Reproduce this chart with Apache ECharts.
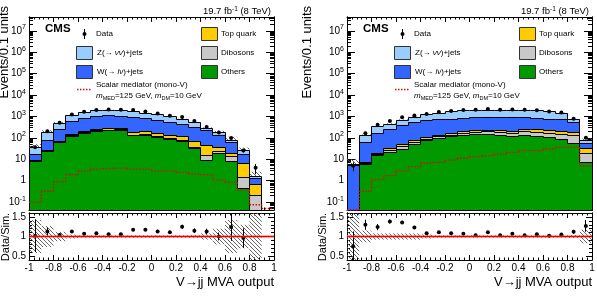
<!DOCTYPE html>
<html lang="en">
<head>
    <meta charset="UTF-8">
    <title>V-&gt;jj MVA output</title>
    <script src="https://cdn.jsdelivr.net/npm/echarts@6.0.0/dist/echarts.min.js"></script>
    <style>
        html, body { margin: 0; padding: 0; background: #fff; }
        #main { width: 597px; height: 296px; }
    </style>
</head>
<body>
<div id="main"></div>

<script type="text/javascript">
    // bins of the MVA output (lower edges), width 0.1
    const binLow = [-1, -0.9, -0.8, -0.7, -0.6, -0.5, -0.4, -0.3, -0.2, -0.1, 0, 0.1, 0.2, 0.3, 0.4, 0.5, 0.6, 0.7, 0.8, 0.9]
    const binWidth = 0.1
    const logTickExp = [-1, 0, 1, 2, 3, 4, 5, 6, 7]
    const ratioTicks = [0.5, 1, 1.5]
    const ratioMinorTicks = [0.6, 0.7, 0.8, 0.9, 1.1, 1.2, 1.3, 1.4]

    // left panel, events per bin (stack order bottom -> top)
    const othersL  = [8.3, 22.6, 59.6, 122, 169, 202, 217, 233, 127, 136, 106, 88.5, 66.4, 32.4, 9.2, 18.9, 8.0, 0.45, 0.02, 0]
    const dibosonL = [0.3, 0.9, 2.2, 5, 12, 15, 16, 17, 9, 10, 8, 10, 7.6, 3.7, 6.1, 3.7, 5.2, 0.98, 0.19, 0]
    const topL     = [0.3, 1.7, 7, 14, 21, 24, 36, 39, 52, 49, 43, 37.5, 40, 32.8, 27.9, 13.5, 5.7, 4.6, 0.49, 0]
    const wjetsL   = [8.7, 54, 190, 450, 645, 773, 820, 761, 756, 594, 502, 396, 299, 241, 174, 100, 43, 11.6, 0.63, 0]
    const zjetsL   = [18.5, 101, 236, 498, 713, 852, 915, 882, 794, 663, 554, 446, 348, 222, 72, 45, 17.7, 9.5, 0.21, 0]
    const dataL    = [37, 205, 515, 1231, 1669, 2015, 2124, 2048, 2033, 1699, 1371, 1086, 951, 612, 327, 181, 99, 26, 4, null]
    const signalL  = [0.097, 0.32, 0.9, 1.9, 2.9, 3.5, 3.7, 3.9, 3.5, 3.5, 2.9, 2.9, 2.45, 2.05, 1.9, 1.07, 0.84, 0.37, 0.075, 0.05]
    const ratioL    = [1.02, 1.13, 1.04, 1.13, 1.07, 1.08, 1.06, 1.06, 1.17, 1.17, 1.13, 1.11, 1.25, 1.15, 1.13, 1.0, 1.24, 0.96, null, null]
    const ratioErrL = [0.42, 0.1, 0.04, 0.03, 0.03, 0.03, 0.03, 0.03, 0.03, 0.03, 0.04, 0.04, 0.05, 0.06, 0.07, 0.1, 0.35, 0.25, 0, 0]
    const mcErrL    = [0.42, 0.27, 0.12, 0.05, 0.03, 0.03, 0.03, 0.03, 0.03, 0.03, 0.03, 0.03, 0.03, 0.04, 0.08, 0.2, 0.42, 0.3, 0.7, 0]

    // right panel
    const othersR  = [0.01, 6.0, 14.7, 21.1, 30.2, 51.6, 74, 98.5, 118, 136, 151, 151, 127, 118, 136, 118, 106, 88.5, 55.5, 7.2]
    const dibosonR = [0.005, 0.6, 1.3, 4.1, 8.6, 10.2, 14.5, 15.5, 18, 21, 30, 44, 54, 45, 59, 63, 57, 62.5, 71.5, 12.4]
    const topR     = [0.005, 0.6, 3, 7.2, 12.8, 12.2, 17.5, 22, 33, 38, 52, 38, 52, 39, 64, 60, 70, 51, 54, 12.8]
    const wjetsR   = [5.0, 54.6, 150, 227, 347, 458, 530, 572, 592, 652, 678, 678, 678, 709, 652, 606, 528, 506, 351, 23.1]
    const zjetsR   = [1.0, 65, 164, 186, 285, 379, 577, 744, 914, 1019, 1093, 1093, 1093, 1093, 1093, 1019, 914, 744, 176, 24]
    const dataR    = [5, 165, 413, 614, 930, 1121, 1310, 1612, 1809, 1997, 2064, 2224, 2064, 2144, 2064, 1978, 1709, 1525, 793, 101]
    const signalR  = [0.02, 0.32, 1.11, 1.71, 2.9, 4.5, 6.7, 7.2, 9.2, 11.5, 13.2, 14.7, 17.6, 21.1, 25.2, 25.2, 30.2, 36.1, 36.1, 5.0]
    const ratioR    = [0.75, 1.30, 1.24, 1.38, 1.36, 1.23, 1.08, 1.11, 1.08, 1.07, 1.03, 1.11, 1.03, 1.07, 1.03, 1.06, 1.02, 1.05, 1.12, 1.27]
    const ratioErrR = [0.38, 0.13, 0.08, 0.05, 0.04, 0.04, 0.03, 0.03, 0.03, 0.03, 0.03, 0.03, 0.03, 0.03, 0.03, 0.03, 0.03, 0.03, 0.05, 0.15]
    const mcErrR    = [0.7, 0.15, 0.08, 0.08, 0.08, 0.08, 0.05, 0.03, 0.03, 0.03, 0.03, 0.03, 0.03, 0.03, 0.03, 0.03, 0.03, 0.03, 0.04, 0.17]
</script>

<script type="text/javascript">
    const FONT = '"Liberation Sans", Arial, Helvetica, sans-serif'
    const LOG_MIN = -1.37, LOG_MAX = 7.65
    const R_MIN = 0.4, R_MAX = 1.6
    const compColors = ['#009900', '#c8c8c8', '#ffcc00', '#3366ff', '#99ccff']
    const sigColor = '#cc1111'

    const panels = [
        { left: 29, comps: [othersL, dibosonL, topL, wjetsL, zjetsL], data: dataL, signal: signalL,
          ratio: ratioL, ratioErr: ratioErrL, mcErr: mcErrL, evTitleX: 4, ratioTitleX: 6 },
        { left: 347, comps: [othersR, dibosonR, topR, wjetsR, zjetsR], data: dataR, signal: signalR,
          ratio: ratioR, ratioErr: ratioErrR, mcErr: mcErrR, evTitleX: 307, ratioTitleX: 323 }
    ]

    // minor log ticks 2..9 x 10^n
    const logMinor = []
    for (let n = -2; n <= 7; n++) {
        for (let k = 2; k <= 9; k++) {
            const v = Math.log10(k) + n
            if (v > LOG_MIN && v < LOG_MAX) logMinor.push(v)
        }
    }

    function toLog(v) {
        if (!(v > 0)) return LOG_MIN
        return Math.min(LOG_MAX, Math.max(LOG_MIN, Math.log10(v)))
    }
    function cumLevels(comps, i) {
        const out = []
        let s = 0
        comps.forEach(c => { s += c[i]; out.push(s) })
        return out
    }
    const crisp = v => Math.round(v - 0.5) + 0.5

    function hatchPattern(color) {
        const c = document.createElement('canvas')
        c.width = 4
        c.height = 4
        const ctx = c.getContext('2d')
        ctx.strokeStyle = color
        ctx.lineWidth = 0.9
        ctx.beginPath()
        ctx.moveTo(0, 0); ctx.lineTo(4, 4)
        ctx.moveTo(-1, 3); ctx.lineTo(1, 5)
        ctx.moveTo(3, -1); ctx.lineTo(5, 1)
        ctx.stroke()
        return { image: c, repeat: 'repeat' }
    }
    const hatch = hatchPattern('#555')

    const grids = [], xAxes = [], yAxes = [], series = [], graphics = []

    function addX(gi, pos, showLabel, tickLen) {
        xAxes.push({
            type: 'value', gridIndex: gi, position: pos, min: -1, max: 1, interval: 0.2,
            axisLine: { show: true, onZero: false, lineStyle: { color: '#000', width: 1 } },
            axisTick: { show: true, inside: true, length: tickLen, lineStyle: { color: '#000' } },
            minorTick: { show: true, splitNumber: 5, length: tickLen / 2, lineStyle: { color: '#000' } },
            axisLabel: { show: showLabel, margin: 3, color: '#000', fontSize: 10, fontFamily: FONT },
            splitLine: { show: false }
        })
        return xAxes.length - 1
    }

    function addY(gi, pos, min, max, ticks, tickLen, label) {
        yAxes.push({
            type: 'value', gridIndex: gi, position: pos, min: min, max: max,
            axisLine: { show: true, onZero: false, lineStyle: { color: '#000', width: 1 } },
            axisTick: { show: true, inside: true, length: tickLen, customValues: ticks, lineStyle: { color: '#000' } },
            axisLabel: label ? Object.assign({ show: true, customValues: ticks, margin: 3, color: '#000',
                fontSize: 10, fontFamily: FONT }, label) : { show: false },
            splitLine: { show: false }
        })
        return yAxes.length - 1
    }

    const logLabel = {
        formatter: v => v === 0 ? '{b|1}' : v === 1 ? '{b|10}' : '{b|10}{s|' + v + '}',
        rich: {
            b: { fontSize: 10, fontFamily: FONT, color: '#000', lineHeight: 14 },
            s: { fontSize: 7, fontFamily: FONT, color: '#000', verticalAlign: 'top', lineHeight: 8 }
        }
    }

    panels.forEach(p => {
        const gMain = grids.length
        grids.push({ left: p.left, top: 17, width: 245, height: 193, containLabel: false, outerBoundsMode: 'none' })
        const gRat = grids.length
        grids.push({ left: p.left, top: 213, width: 245, height: 47, containLabel: false, outerBoundsMode: 'none' })

        const xm = addX(gMain, 'bottom', false, 5)
        addX(gMain, 'top', false, 5)
        const xr = addX(gRat, 'bottom', true, 5)
        addX(gRat, 'top', false, 5)

        const ym = addY(gMain, 'left', LOG_MIN, LOG_MAX, logTickExp, 8, logLabel)
        addY(gMain, 'left', LOG_MIN, LOG_MAX, logMinor, 4, null)
        addY(gMain, 'right', LOG_MIN, LOG_MAX, logTickExp, 8, null)
        addY(gMain, 'right', LOG_MIN, LOG_MAX, logMinor, 4, null)

        const yr = addY(gRat, 'left', R_MIN, R_MAX, ratioTicks, 6, { formatter: v => String(v) })
        addY(gRat, 'left', R_MIN, R_MAX, ratioMinorTicks, 3, null)
        addY(gRat, 'right', R_MIN, R_MAX, ratioTicks, 6, null)
        addY(gRat, 'right', R_MIN, R_MAX, ratioMinorTicks, 3, null)

        const binData = binLow.map(b => [b])
        const mainSeries = { type: 'custom', xAxisIndex: xm, yAxisIndex: ym, data: binData, silent: true, animation: false }
        const ratSeries = { type: 'custom', xAxisIndex: xr, yAxisIndex: yr, data: binData, silent: true, animation: false }

        // MC uncertainty band in main panel (drawn first, stack covers the inner part)
        series.push(Object.assign({}, mainSeries, {
            renderItem: (params, api) => {
                const i = params.dataIndex
                const tot = cumLevels(p.comps, i)[4]
                const e = p.mcErr[i]
                if (!(tot > 0) || !e) return
                const a = api.coord([binLow[i], toLog(tot * (1 + e))])
                const b = api.coord([binLow[i] + binWidth, toLog(tot * (1 - e))])
                return { type: 'rect', shape: { x: a[0], y: a[1], width: b[0] - a[0], height: b[1] - a[1] },
                    style: { fill: hatch } }
            }
        }))

        // stacked fills
        series.push(Object.assign({}, mainSeries, {
            renderItem: (params, api) => {
                const i = params.dataIndex
                const lv = cumLevels(p.comps, i)
                const x0 = binLow[i], x1 = x0 + binWidth
                const children = []
                let lo = LOG_MIN
                lv.forEach((v, k) => {
                    const hi = toLog(v)
                    if (hi > lo) {
                        const a = api.coord([x0, hi]), b = api.coord([x1, lo])
                        const xa = Math.round(a[0]), xb = Math.round(b[0])
                        const ya = Math.round(a[1]), yb = Math.round(b[1])
                        children.push({ type: 'rect', shape: { x: xa, y: ya, width: xb - xa, height: yb - ya },
                            style: { fill: compColors[k] } })
                    }
                    lo = Math.max(lo, hi)
                })
                return { type: 'group', children }
            }
        }))

        // black step outlines of every stack level
        series.push(Object.assign({}, mainSeries, {
            renderItem: (params, api) => {
                const i = params.dataIndex
                const x0 = binLow[i], x1 = x0 + binWidth
                const lv = cumLevels(p.comps, i).map(toLog)
                const nxt = i + 1 < binLow.length ? cumLevels(p.comps, i + 1).map(toLog) : lv.map(() => LOG_MIN)
                const children = []
                const line = (pa, pb) => children.push({ type: 'line',
                    shape: { x1: crisp(pa[0]), y1: crisp(pa[1]), x2: crisp(pb[0]), y2: crisp(pb[1]) },
                    style: { stroke: '#000', lineWidth: 1 } })
                lv.forEach((l, k) => {
                    if (l > LOG_MIN) line(api.coord([x0, l]), api.coord([x1, l]))
                    if (nxt[k] !== l) line(api.coord([x1, l]), api.coord([x1, nxt[k]]))
                    if (i === 0 && l > LOG_MIN) line(api.coord([x0, LOG_MIN]), api.coord([x0, l]))
                })
                return { type: 'group', children }
            }
        }))

        // signal (dotted step line)
        series.push(Object.assign({}, mainSeries, {
            renderItem: (params, api) => {
                const i = params.dataIndex
                const x0 = binLow[i], x1 = x0 + binWidth
                const l = toLog(p.signal[i])
                const n = i + 1 < binLow.length ? toLog(p.signal[i + 1]) : l
                const st = { stroke: sigColor, lineWidth: 1.3, lineDash: [1.5, 1.5] }
                const a = api.coord([x0, l]), b = api.coord([x1, l]), c = api.coord([x1, n])
                return { type: 'group', children: [
                    { type: 'line', shape: { x1: a[0], y1: a[1], x2: b[0], y2: b[1] }, style: st },
                    { type: 'line', shape: { x1: b[0], y1: b[1], x2: c[0], y2: c[1] }, style: st }
                ] }
            }
        }))

        // data points with Poisson error bars
        series.push(Object.assign({}, mainSeries, {
            renderItem: (params, api) => {
                const i = params.dataIndex
                const d = p.data[i]
                if (d == null) return
                const x = binLow[i] + binWidth / 2
                const e = Math.sqrt(d)
                const t = api.coord([x, toLog(d + e)]), b = api.coord([x, toLog(d - e)]), c = api.coord([x, toLog(d)])
                return { type: 'group', children: [
                    { type: 'line', shape: { x1: crisp(c[0]), y1: t[1], x2: crisp(c[0]), y2: b[1] }, style: { stroke: '#000', lineWidth: 1 } },
                    { type: 'circle', shape: { cx: c[0], cy: c[1], r: 2 }, style: { fill: '#000' } }
                ] }
            }
        }))

        // ratio: MC uncertainty band
        series.push(Object.assign({}, ratSeries, {
            renderItem: (params, api) => {
                const i = params.dataIndex
                const e = p.mcErr[i]
                if (!e) return
                const a = api.coord([binLow[i], Math.min(R_MAX, 1 + e)])
                const b = api.coord([binLow[i] + binWidth, Math.max(R_MIN, 1 - e)])
                return { type: 'rect', shape: { x: a[0], y: a[1], width: b[0] - a[0], height: b[1] - a[1] },
                    style: { fill: hatch } }
            }
        }))

        // ratio: reference line at 1
        series.push({ type: 'line', xAxisIndex: xr, yAxisIndex: yr, data: [[-1, 1], [1, 1]], symbol: 'none',
            silent: true, animation: false, lineStyle: { color: 'rgba(255,60,60,0.45)', width: 3 } })
        series.push({ type: 'line', xAxisIndex: xr, yAxisIndex: yr, data: [[-1, 1], [1, 1]], symbol: 'none',
            silent: true, animation: false, lineStyle: { color: '#ee0000', width: 1 } })

        // ratio: data / simulation points
        series.push(Object.assign({}, ratSeries, {
            renderItem: (params, api) => {
                const i = params.dataIndex
                const r = p.ratio[i]
                if (r == null) return
                const x = binLow[i] + binWidth / 2
                const e = p.ratioErr[i]
                const t = api.coord([x, Math.min(R_MAX, r + e)]), b = api.coord([x, Math.max(R_MIN, r - e)])
                const c = api.coord([x, r])
                return { type: 'group', children: [
                    { type: 'line', shape: { x1: crisp(c[0]), y1: t[1], x2: crisp(c[0]), y2: b[1] }, style: { stroke: '#000', lineWidth: 1 } },
                    { type: 'circle', shape: { cx: c[0], cy: c[1], r: 2 }, style: { fill: '#000' } }
                ] }
            }
        }))

        // texts and legend
        const fx = p.left
        const text = (x, y, str, extra) => graphics.push({ type: 'text', x: x, y: y, silent: true,
            style: Object.assign({ text: str, fontSize: 8, fontFamily: FONT, fill: '#000',
                align: 'left', verticalAlign: 'middle', textAlign: 'left', textVerticalAlign: 'middle' }, extra) })
        const box = (x, y, color) => graphics.push({ type: 'rect', silent: true,
            shape: { x: x, y: y, width: 16, height: 13 }, style: { fill: color, stroke: '#333', lineWidth: 1 } })

        text(fx + 16, 29, 'CMS', { fontSize: 11.5, fontWeight: 'bold' })
        text(fx + 242, 11, '19.7 fb{s|-1} (8 TeV)', { fontSize: 9.5, align: 'right', textAlign: 'right',
            rich: { s: { fontSize: 6.5, fontFamily: FONT, verticalAlign: 'top', lineHeight: 7 } } })

        graphics.push({ type: 'line', silent: true, shape: { x1: fx + 55.5, y1: 29, x2: fx + 55.5, y2: 39 }, style: { stroke: '#000', lineWidth: 1 } })
        graphics.push({ type: 'circle', silent: true, shape: { cx: fx + 55.5, cy: 34, r: 2 }, style: { fill: '#000' } })
        text(fx + 67, 34, 'Data')
        box(fx + 47.5, 46.5, compColors[4])
        text(fx + 68, 53, 'Z(→ {i|νν})+jets', { rich: { i: { fontSize: 8, fontFamily: FONT, fontStyle: 'italic' } } })
        box(fx + 47.5, 65.5, compColors[3])
        text(fx + 68, 72, 'W(→ {i|lν})+jets', { rich: { i: { fontSize: 8, fontFamily: FONT, fontStyle: 'italic' } } })
        graphics.push({ type: 'line', silent: true, shape: { x1: fx + 48, y1: 89.5, x2: fx + 63, y2: 89.5 },
            style: { stroke: sigColor, lineWidth: 1.3, lineDash: [1.5, 1.5] } })
        text(fx + 67, 85, 'Scalar mediator (mono-V)')
        text(fx + 67, 96, '{i|m}{u|MED}=125 GeV, {i|m}{u|DM}=10 GeV', { rich: {
            i: { fontSize: 8, fontFamily: FONT, fontStyle: 'italic', lineHeight: 10 },
            u: { fontSize: 5.5, fontFamily: FONT, verticalAlign: 'bottom', lineHeight: 6 } } })
        box(fx + 172.5, 27.5, compColors[2])
        text(fx + 192, 34, 'Top quark')
        box(fx + 172.5, 46.5, compColors[1])
        text(fx + 192, 53, 'Dibosons')
        box(fx + 172.5, 65.5, compColors[0])
        text(fx + 192, 72, 'Others')

        text(fx + 245, 282, 'V→jj MVA output', { fontSize: 13, align: 'right', textAlign: 'right' })
        graphics.push({ type: 'text', x: p.evTitleX, y: 6, rotation: Math.PI / 2, silent: true,
            style: { text: 'Events/0.1 units', fontSize: 13, fontFamily: FONT, fill: '#000',
                align: 'right', verticalAlign: 'middle', textAlign: 'right', textVerticalAlign: 'middle' } })
        graphics.push({ type: 'text', x: p.ratioTitleX, y: 237, rotation: Math.PI / 2, silent: true,
            style: { text: 'Data/Sim.', fontSize: 11, fontFamily: FONT, fill: '#000',
                align: 'center', verticalAlign: 'middle', textAlign: 'center', textVerticalAlign: 'middle' } })
    })

    const myChart = echarts.init(document.getElementById('main'), null, { renderer: 'canvas' })
    myChart.setOption({
        backgroundColor: '#fff',
        animation: false,
        textStyle: { fontFamily: FONT },
        grid: grids,
        xAxis: xAxes,
        yAxis: yAxes,
        series: series,
        graphic: { elements: graphics }
    })
</script>
</body>
</html>
